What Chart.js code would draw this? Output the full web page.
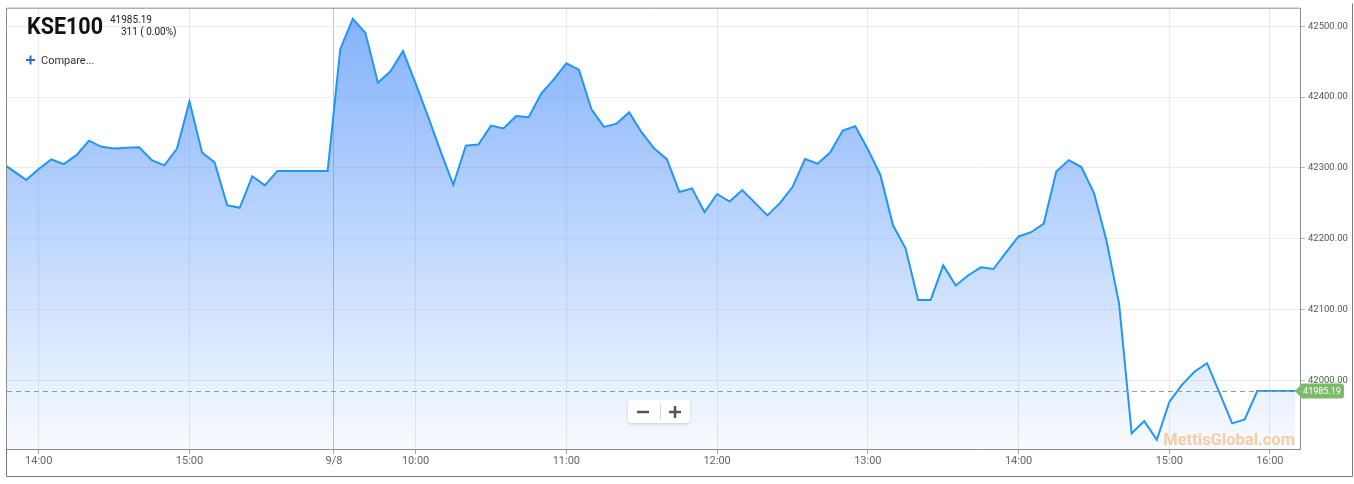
<!DOCTYPE html>
<html>
<head>
<meta charset="utf-8">
<script src="https://cdn.jsdelivr.net/npm/chart.js@4.4.1/dist/chart.umd.min.js"></script>
<style>
body { margin: 0; background: #fff; }
#wrap { position: relative; width: 1354px; height: 484px; }
</style>
</head>
<body>
<div id="wrap"><canvas id="myChart" width="1354" height="484"></canvas></div>
<script>

const indexName = 'KSE100';
const lastValue = 41985.19;
const changeText = '311 ( 0.00%)';
const watermark = 'MettisGlobal.com';

// previous session, 5 min points (13:45 .. 15:55)
const day1Values = [
    42308, 42295.5, 42283.1, 42298.5, 42312, 42305.4, 42318, 42338.4, 42329.7, 42327.3,
    42328.3, 42329.1, 42311, 42303.6, 42326.9, 42393.7, 42321.7, 42307.8, 42247.5, 42243.7,
    42288.3, 42275.3, 42295.7, 42295.7, 42295.7, 42295.7, 42295.7
];

// 9/8 session
const day2Values = [
    42467.5, 42510.2, 42490.7, 42420.2, 42436.3, 42464.8, 42419.2, 42371.9, 42323.1, 42276.2,
    42331.5, 42332.9, 42359.7, 42355.6, 42373.3, 42371.4, 42405, 42424.8, 42447.5, 42438.7,
    42382.6, 42357.9, 42362.5, 42378.4, 42350, 42327.3, 42312.4, 42266, 42271.2, 42237.7,
    42263.2, 42252.5, 42268.8, 42251.1, 42233, 42250.3, 42273, 42312.4, 42306, 42321.7,
    42352.8, 42358.9, 42326.3, 42290.1, 42219.1, 42186.6, 42113.8, 42113.8, 42162.5, 42134.1,
    42148.6, 42159.7, 42157.4, 42181, 42203.3, 42209.3, 42221.4, 42294.8, 42311, 42301.2,
    42264.6, 42197.3, 42108.2, 41925.7, 41942.9, 41916.4, 41969.8, 41994, 42012.5, 42024.6,
    41982.3, 41939.7, 41945.2, 41985.19, 41985.19, 41985.19, 41985.19
];

// x axis labels and the point index they sit on
const tickLabels = ['14:00', '15:00', '9/8', '10:00', '11:00', '12:00', '13:00', '14:00', '15:00', '16:00'];
const tickPoints = [3, 15, 26.5, 33, 45, 57, 69, 81, 93, 101];

const yTicks = [42000, 42100, 42200, 42300, 42400, 42500];

const allValues = day1Values.concat(day2Values);
const points = allValues.map((v, i) => ({x: i, y: v}));

const extras = {
    id: 'extras',
    beforeDraw(chart) {
        const ctx = chart.ctx;
        ctx.save();
        ctx.fillStyle = '#fff';
        ctx.fillRect(0, 0, chart.width, chart.height);
        ctx.restore();
    },
    afterDatasetsDraw(chart) {
        const {ctx, chartArea: a, scales: {y}} = chart;
        const yy = Math.round(y.getPixelForValue(lastValue)) + 0.5;
        ctx.save();
        // last value dashed line
        ctx.strokeStyle = '#9a9a9a';
        ctx.lineWidth = 1;
        ctx.setLineDash([5, 4]);
        ctx.beginPath();
        ctx.moveTo(a.left, yy);
        ctx.lineTo(a.right - 4, yy);
        ctx.stroke();
        ctx.setLineDash([]);

        // watermark
        ctx.font = 'bold 16.5px Roboto';
        ctx.fillStyle = 'rgba(248,168,88,0.55)';
        ctx.textAlign = 'right';
        ctx.textBaseline = 'alphabetic';
        ctx.fillText(watermark, 1295, 445);
        ctx.restore();
    },
    afterDraw(chart) {
        const {ctx, chartArea: a, scales: {y}} = chart;
        ctx.save();

        // plot frame top/left + outer frame
        ctx.strokeStyle = '#8c8c8c';
        ctx.lineWidth = 1;
        ctx.beginPath();
        ctx.moveTo(a.left - 0.5, a.bottom);
        ctx.lineTo(a.left - 0.5, a.top - 0.5);
        ctx.lineTo(a.right + 0.5, a.top - 0.5);
        ctx.stroke();
        ctx.strokeStyle = '#777';
        ctx.beginPath();
        ctx.moveTo(a.left - 0.5, a.bottom);
        ctx.lineTo(a.left - 0.5, 476.5);
        ctx.lineTo(1352.5, 476.5);
        ctx.lineTo(1352.5, 3.5);
        ctx.stroke();

        // title block
        ctx.fillStyle = '#111';
        ctx.font = 'bold 23px Roboto';
        ctx.textAlign = 'left';
        ctx.textBaseline = 'alphabetic';
        const w = ctx.measureText(indexName).width;
        ctx.save();
        ctx.translate(27, 34);
        ctx.scale(76 / w, 1);
        ctx.fillText(indexName, 0, 0);
        ctx.restore();
        ctx.font = '10px Roboto';
        ctx.fillStyle = '#222';
        ctx.fillText(lastValue.toFixed(2), 110, 23);
        ctx.fillText(changeText, 121, 35);

        // compare link
        ctx.strokeStyle = '#2b6cc4';
        ctx.lineWidth = 2;
        ctx.beginPath();
        ctx.moveTo(26, 60); ctx.lineTo(35, 60);
        ctx.moveTo(30.5, 55.5); ctx.lineTo(30.5, 64.5);
        ctx.stroke();
        ctx.font = '11px Roboto';
        ctx.fillStyle = '#333';
        ctx.fillText('Compare...', 41, 64);

        // zoom buttons
        ctx.save();
        ctx.shadowColor = 'rgba(0,0,0,0.18)';
        ctx.shadowBlur = 3;
        ctx.shadowOffsetY = 1;
        ctx.fillStyle = '#fff';
        ctx.beginPath();
        ctx.roundRect(628, 400, 62, 23, 3);
        ctx.fill();
        ctx.restore();
        ctx.strokeStyle = '#d8d8d8';
        ctx.lineWidth = 1;
        ctx.beginPath();
        ctx.moveTo(660.5, 403); ctx.lineTo(660.5, 420);
        ctx.stroke();
        ctx.strokeStyle = '#555';
        ctx.lineWidth = 2.5;
        ctx.beginPath();
        ctx.moveTo(637, 412); ctx.lineTo(649, 412);
        ctx.moveTo(669, 412); ctx.lineTo(681, 412);
        ctx.moveTo(675, 406); ctx.lineTo(675, 418);
        ctx.stroke();

        // last value tag
        const ty = y.getPixelForValue(lastValue);
        ctx.fillStyle = '#7dba6a';
        ctx.beginPath();
        ctx.moveTo(1295, ty);
        ctx.lineTo(1302, ty - 7.5);
        ctx.lineTo(1341, ty - 7.5);
        ctx.quadraticCurveTo(1344, ty - 7.5, 1344, ty - 4.5);
        ctx.lineTo(1344, ty + 4.5);
        ctx.quadraticCurveTo(1344, ty + 7.5, 1341, ty + 7.5);
        ctx.lineTo(1302, ty + 7.5);
        ctx.closePath();
        ctx.fill();
        ctx.fillStyle = '#fff';
        ctx.font = '9px Roboto';
        ctx.textAlign = 'center';
        ctx.textBaseline = 'middle';
        ctx.fillText(lastValue.toFixed(2), 1322, ty + 0.5);

        ctx.restore();
    }
};

const config = {
    type: 'line',
    data: {
        datasets: [{
            data: points,
            borderColor: '#2196f3',
            borderWidth: 2,
            pointRadius: 0,
            tension: 0,
            fill: 'start',
            backgroundColor: (context) => {
                const a = context.chart.chartArea;
                if (!a) return 'rgba(70,140,250,0.3)';
                const g = context.chart.ctx.createLinearGradient(0, a.top, 0, a.bottom);
                g.addColorStop(0, 'rgba(70,140,250,0.68)');
                g.addColorStop(1, 'rgba(70,140,250,0.04)');
                return g;
            }
        }]
    },
    options: {
        responsive: false,
        animation: false,
        events: [],
        layout: {padding: {left: 7, top: 3, right: 0, bottom: 8}},
        plugins: {legend: {display: false}, tooltip: {enabled: false}},
        scales: {
            x: {
                type: 'linear',
                min: 0.475,
                max: 103.4,
                afterBuildTicks: (scale) => { scale.ticks = tickPoints.map(v => ({value: v})); },
                afterFit: (scale) => { scale.height = 27; },
                border: {display: true, color: '#8c8c8c'},
                grid: {
                    color: (c) => (c.tick && tickLabels[tickPoints.indexOf(c.tick.value)] === '9/8') ? '#c2c2c2' : '#eaeaea',
                    tickColor: '#aaa',
                    tickLength: 5,
                    drawTicks: true
                },
                ticks: {
                    autoSkip: false,
                    maxRotation: 0,
                    padding: 1,
                    color: '#666',
                    font: {family: 'Roboto', size: 11},
                    callback: (v) => tickLabels[tickPoints.indexOf(v)]
                }
            },
            y: {
                position: 'right',
                min: 41903.5,
                max: 42524.6,
                afterBuildTicks: (scale) => { scale.ticks = yTicks.map(v => ({value: v})); },
                afterFit: (scale) => { scale.width = 54; },
                border: {display: true, color: '#8c8c8c'},
                grid: {color: '#ececec', tickColor: '#bbb', tickLength: 5},
                ticks: {
                    padding: 3,
                    color: '#555',
                    font: {family: 'Roboto', size: 9.5},
                    callback: (v) => Number(v).toFixed(2)
                }
            }
        }
    },
    plugins: [extras]
};

let myChart = new Chart(document.getElementById('myChart'), config);
</script>
</body>
</html>
